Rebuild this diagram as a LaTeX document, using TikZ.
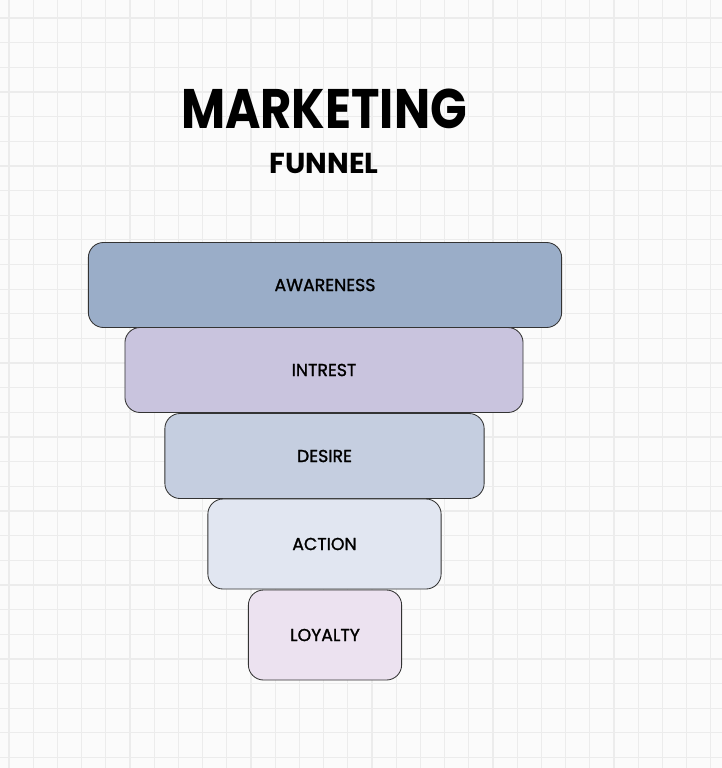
\documentclass[tikz,border=0pt]{standalone}
\usepackage{fontspec}
\setmainfont{Poppins}
\definecolor{paper}{RGB}{251,251,251}
\definecolor{gridgray}{RGB}{236,236,236}
\definecolor{awareblue}{RGB}{154,173,200}
\definecolor{intrestlilac}{RGB}{201,196,222}
\definecolor{desireblue}{RGB}{197,206,224}
\definecolor{actionblue}{RGB}{225,230,241}
\definecolor{loyaltypink}{RGB}{236,226,240}
\begin{document}
\begin{tikzpicture}[x=0.025cm, y=-0.025cm, line join=round, line cap=round,
  stage/.style={draw=black!80, line width=0.6pt, rounded corners=0.38cm, inner sep=0pt, minimum height=2.125cm, font=\fontsize{12.3}{14}\selectfont\addfontfeature{FakeBold=1.4}}]
\fill[paper](0,0) rectangle(722,768);
\useasboundingbox(0,0) rectangle(722,768);
\begin{scope}[gridgray, line width=0.9pt]
\foreach \i in {0,...,29} \draw(9+24.2*\i,0)--(9+24.2*\i,768);
\foreach \j in {0,...,30} \draw(0,18+24.65*\j)--(722,18+24.65*\j);
\end{scope}
\path(324,109)node(T){\scalebox{0.95}[1.1]{\fontsize{36}{40}\selectfont\bfseries MARKETING}}++(0,54)node(F){\fontsize{20.5}{23}\selectfont\bfseries FUNNEL};
\path(325,285)node(A)[stage,fill=awareblue,minimum width=11.83cm]{AWARENESS}
 ++(-1,85)node(B)[stage,fill=intrestlilac,minimum width=9.95cm]{INTREST}
 ++(0.5,86)node(C)[stage,fill=desireblue,minimum width=7.98cm]{DESIRE}
 ++(0,88)node(D)[stage,fill=actionblue,minimum width=5.83cm,minimum height=2.25cm]{ACTION}
 ++(0.5,91)node(E)[stage,fill=loyaltypink,minimum width=3.83cm,minimum height=2.25cm]{LOYALTY};
\end{tikzpicture}
\end{document}
